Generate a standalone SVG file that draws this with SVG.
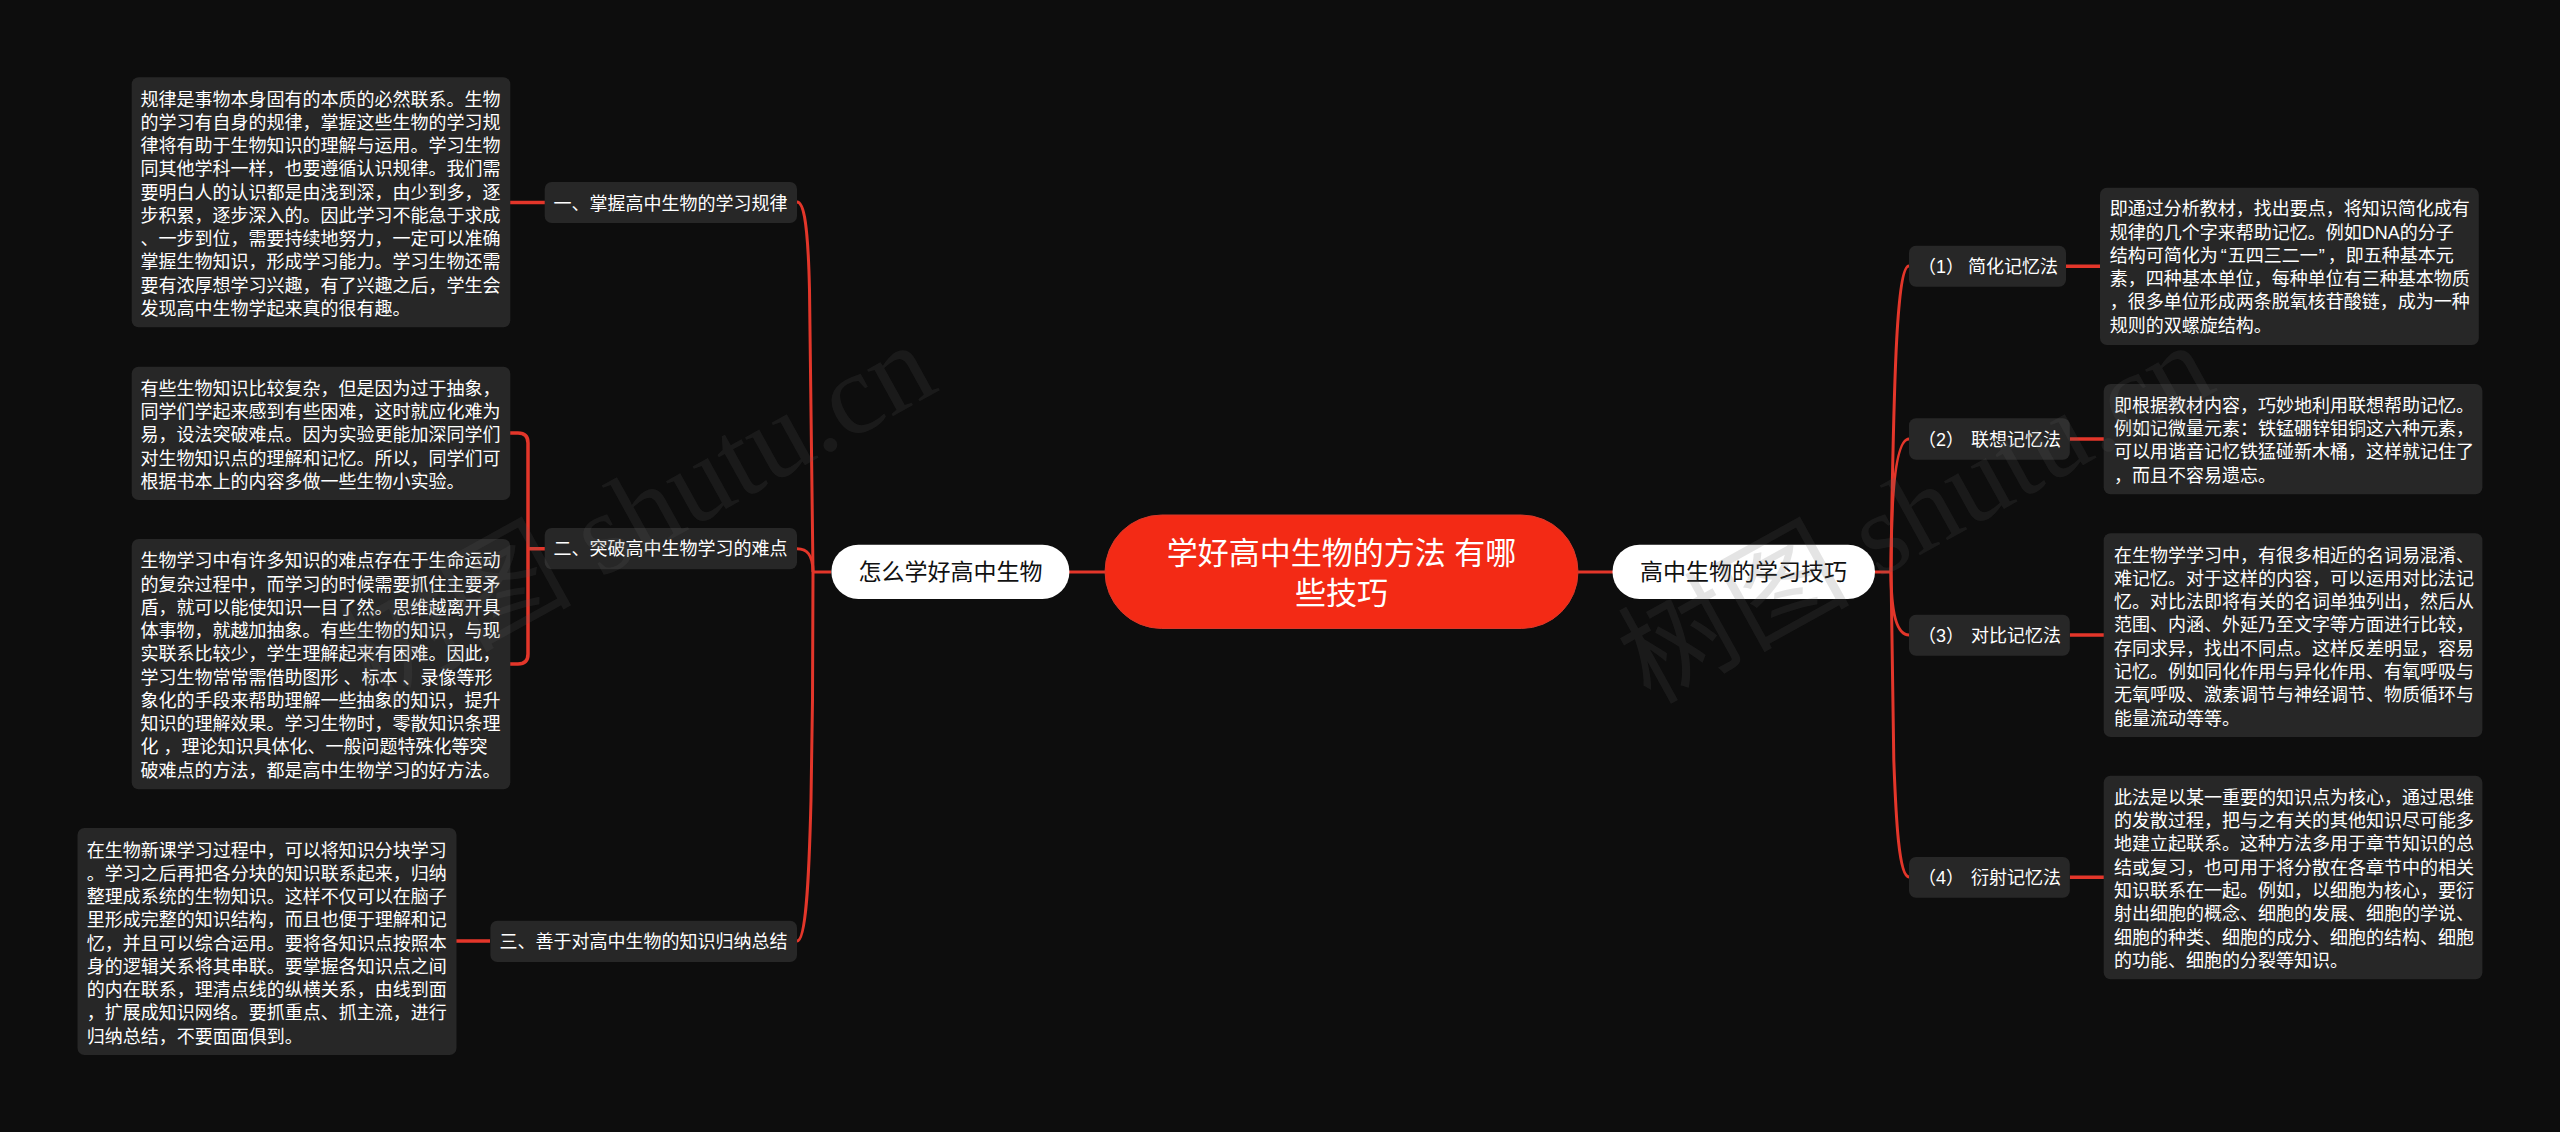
<svg xmlns="http://www.w3.org/2000/svg" width="2560" height="1132" viewBox="0 0 2560 1132">
<style>
text{font-family:"Liberation Sans","Noto Sans CJK SC",sans-serif;fill:#fff}
.box{fill:#272727}
.t{font-size:18px}
.sec{font-size:23px;fill:#111}
.root{font-size:31px;text-anchor:middle}
.pill{fill:#fff}
.c path{fill:none;stroke:#e3362a;stroke-width:3}
.c .s{stroke-width:3.5}
.wm{font-family:"Liberation Serif","Noto Sans CJK SC",serif;font-size:116px;fill:#606060;fill-opacity:.17}
</style>
<rect width="2560" height="1132" fill="#0d0d0d"/>
<g id="connectors" class="c">
<path d="M1105 572H1069"/>
<path d="M831 572H813"/>
<path d="M1578 572H1613"/>
<path d="M1875 572H1891"/>
<path d="M797 202C804 202 808 225 809.5 290C810.5 340 812 450 813 572"/>
<path d="M797 548.7C806 548.7 813 553 813 572"/>
<path d="M813 572L812.5 700L811 800C809 880 806 941 797 941"/>
<path class="s" d="M510 202.5H545"/>
<path class="s" d="M510 433H518Q528 433 528 443V654Q528 664 518 664H510M528 548.7H545"/>
<path class="s" d="M456 941H490"/>
<path d="M1891 572L1892 500C1894 400 1896 266 1909 266"/>
<path d="M1891 572C1891 500 1895 439 1909 439"/>
<path d="M1891 572C1891 615 1897 635 1909 635"/>
<path d="M1891 572L1893.8 760C1896 820 1899 877 1909 877"/>
<path class="s" d="M2066 266.3H2100"/>
<path class="s" d="M2069.8 439H2104"/>
<path class="s" d="M2069.8 635H2104"/>
<path class="s" d="M2069.8 877.3H2104"/>
</g>
<g id="root">
<rect x="1105" y="515" width="473" height="113.5" rx="56.7" fill="#f32a15" stroke="#d8382a" stroke-width="1"/>
<text class="root"><tspan x="1341.5" y="564">学好高中生物的方法 有哪</tspan><tspan x="1341.5" y="604">些技巧</tspan></text>
</g>
<g id="left-main">
<rect class="pill" x="831.4" y="544.7" width="238" height="54.3" rx="27"/>
<text class="sec" x="858.5" y="580">怎么学好高中生物</text>
</g>
<g id="right-main">
<rect class="pill" x="1612.5" y="544.7" width="262.5" height="54.3" rx="27"/>
<text class="sec" x="1640" y="580">高中生物的学习技巧</text>
</g>
<g id="node-a">
<rect class="box" x="544.7" y="182" width="252.3" height="41" rx="7"/>
<text class="t" x="553.5" y="209.5">一、掌握高中生物的学习规律</text>
</g>
<g id="node-b">
<rect class="box" x="544.7" y="528" width="252.3" height="41.3" rx="7"/>
<text class="t" x="553.5" y="555">二、突破高中生物学习的难点</text>
</g>
<g id="node-c">
<rect class="box" x="490.4" y="920.7" width="306.6" height="41.3" rx="7"/>
<text class="t" x="499.6" y="947.7">三、善于对高中生物的知识归纳总结</text>
</g>
<g id="box-l1">
<rect class="box" x="131.7" y="77.3" width="378.6" height="250" rx="7"/>
<text class="t"><tspan x="140.5" y="105.5">规律是事物本身固有的本质的必然联系。生物</tspan><tspan x="140.5" y="128.8">的学习有自身的规律，掌握这些生物的学习规</tspan><tspan x="140.5" y="152">律将有助于生物知识的理解与运用。学习生物</tspan><tspan x="140.5" y="175.3">同其他学科一样，也要遵循认识规律。我们需</tspan><tspan x="140.5" y="198.5">要明白人的认识都是由浅到深，由少到多，逐</tspan><tspan x="140.5" y="221.8">步积累，逐步深入的。因此学习不能急于求成</tspan><tspan x="140.5" y="245">、一步到位，需要持续地努力，一定可以准确</tspan><tspan x="140.5" y="268.3">掌握生物知识，形成学习能力。学习生物还需</tspan><tspan x="140.5" y="291.5">要有浓厚想学习兴趣，有了兴趣之后，学生会</tspan><tspan x="140.5" y="314.8">发现高中生物学起来真的很有趣。</tspan></text>
</g>
<g id="box-l2">
<rect class="box" x="131.7" y="366.7" width="378.6" height="133.3" rx="7"/>
<text class="t"><tspan x="140.5" y="394.8">有些生物知识比较复杂，但是因为过于抽象，</tspan><tspan x="140.5" y="418">同学们学起来感到有些困难，这时就应化难为</tspan><tspan x="140.5" y="441.3">易，设法突破难点。因为实验更能加深同学们</tspan><tspan x="140.5" y="464.5">对生物知识点的理解和记忆。所以，同学们可</tspan><tspan x="140.5" y="487.8">根据书本上的内容多做一些生物小实验。</tspan></text>
</g>
<g id="box-l3">
<rect class="box" x="131.7" y="539" width="378.6" height="250.3" rx="7"/>
<text class="t"><tspan x="140.5" y="567.2">生物学习中有许多知识的难点存在于生命运动</tspan><tspan x="140.5" y="590.5">的复杂过程中，而学习的时候需要抓住主要矛</tspan><tspan x="140.5" y="613.7">盾，就可以能使知识一目了然。思维越离开具</tspan><tspan x="140.5" y="637">体事物，就越加抽象。有些生物的知识，与现</tspan><tspan x="140.5" y="660.2">实联系比较少，学生理解起来有困难。因此，</tspan><tspan x="140.5" y="683.5">学习生物常常需借助图形 、标本 、录像等形</tspan><tspan x="140.5" y="706.7">象化的手段来帮助理解一些抽象的知识，提升</tspan><tspan x="140.5" y="730">知识的理解效果。学习生物时，零散知识条理</tspan><tspan x="140.5" y="753.2">化 ，理论知识具体化、一般问题特殊化等突</tspan><tspan x="140.5" y="776.5">破难点的方法，都是高中生物学习的好方法。</tspan></text>
</g>
<g id="box-l4">
<rect class="box" x="77.5" y="828" width="379" height="227" rx="7"/>
<text class="t"><tspan x="86.7" y="856.5">在生物新课学习过程中，可以将知识分块学习</tspan><tspan x="86.7" y="879.8">。学习之后再把各分块的知识联系起来，归纳</tspan><tspan x="86.7" y="903">整理成系统的生物知识。这样不仅可以在脑子</tspan><tspan x="86.7" y="926.3">里形成完整的知识结构，而且也便于理解和记</tspan><tspan x="86.7" y="949.5">忆，并且可以综合运用。要将各知识点按照本</tspan><tspan x="86.7" y="972.8">身的逻辑关系将其串联。要掌握各知识点之间</tspan><tspan x="86.7" y="996">的内在联系，理清点线的纵横关系，由线到面</tspan><tspan x="86.7" y="1019.3">，扩展成知识网络。要抓重点、抓主流，进行</tspan><tspan x="86.7" y="1042.5">归纳总结，不要面面俱到。</tspan></text>
</g>
<g id="node-1">
<rect class="box" x="1909" y="245.7" width="157" height="41" rx="7"/>
<text class="t" x="1918" y="273">（1） <tspan x="1968">简化记忆法</tspan></text>
</g>
<g id="node-2">
<rect class="box" x="1909" y="418.3" width="160.8" height="41.4" rx="7"/>
<text class="t" x="1918" y="445.5">（2） <tspan x="1971">联想记忆法</tspan></text>
</g>
<g id="node-3">
<rect class="box" x="1909" y="614.7" width="160.8" height="41" rx="7"/>
<text class="t" x="1918" y="641.5">（3） <tspan x="1971">对比记忆法</tspan></text>
</g>
<g id="node-4">
<rect class="box" x="1909" y="857" width="160.8" height="40.7" rx="7"/>
<text class="t" x="1918" y="883.8">（4） <tspan x="1971">衍射记忆法</tspan></text>
</g>
<g id="box-r1">
<rect class="box" x="2100" y="187.7" width="378.8" height="157.3" rx="7"/>
<text class="t"><tspan x="2109.8" y="215.2">即通过分析教材，找出要点，将知识简化成有</tspan><tspan x="2109.8" y="238.5">规律的几个字来帮助记忆。例如DNA的分子</tspan><tspan x="2109.8" y="261.8">结构可简化为<tspan dx="3">“</tspan><tspan dx="1">五四三二一</tspan><tspan dx="1">”</tspan><tspan dx="3">，即五种基本元</tspan></tspan><tspan x="2109.8" y="285">素，四种基本单位，每种单位有三种基本物质</tspan><tspan x="2109.8" y="308.3">，很多单位形成两条脱氧核苷酸链，成为一种</tspan><tspan x="2109.8" y="331.5">规则的双螺旋结构。</tspan></text>
</g>
<g id="box-r2">
<rect class="box" x="2103.7" y="384" width="378.7" height="110.3" rx="7"/>
<text class="t"><tspan x="2113.9" y="411.5">即根据教材内容，巧妙地利用联想帮助记忆。</tspan><tspan x="2113.9" y="434.8">例如记微量元素：铁锰硼锌钼铜这六种元素，</tspan><tspan x="2113.9" y="458.2">可以用谐音记忆铁猛碰新木桶，这样就记住了</tspan><tspan x="2113.9" y="481.5">，而且不容易遗忘。</tspan></text>
</g>
<g id="box-r3">
<rect class="box" x="2103.7" y="533.3" width="378.7" height="203.7" rx="7"/>
<text class="t"><tspan x="2113.9" y="561.5">在生物学学习中，有很多相近的名词易混淆、</tspan><tspan x="2113.9" y="584.8">难记忆。对于这样的内容，可以运用对比法记</tspan><tspan x="2113.9" y="608.1">忆。对比法即将有关的名词单独列出，然后从</tspan><tspan x="2113.9" y="631.4">范围、内涵、外延乃至文字等方面进行比较，</tspan><tspan x="2113.9" y="654.7">存同求异，找出不同点。这样反差明显，容易</tspan><tspan x="2113.9" y="678">记忆。例如同化作用与异化作用、有氧呼吸与</tspan><tspan x="2113.9" y="701.3">无氧呼吸、激素调节与神经调节、物质循环与</tspan><tspan x="2113.9" y="724.6">能量流动等等。</tspan></text>
</g>
<g id="box-r4">
<rect class="box" x="2103.7" y="775.7" width="378.7" height="203.6" rx="7"/>
<text class="t"><tspan x="2113.9" y="803.8">此法是以某一重要的知识点为核心，通过思维</tspan><tspan x="2113.9" y="827.1">的发散过程，把与之有关的其他知识尽可能多</tspan><tspan x="2113.9" y="850.4">地建立起联系。这种方法多用于章节知识的总</tspan><tspan x="2113.9" y="873.7">结或复习，也可用于将分散在各章节中的相关</tspan><tspan x="2113.9" y="897">知识联系在一起。例如，以细胞为核心，要衍</tspan><tspan x="2113.9" y="920.3">射出细胞的概念、细胞的发展、细胞的学说、</tspan><tspan x="2113.9" y="943.6">细胞的种类、细胞的成分、细胞的结构、细胞</tspan><tspan x="2113.9" y="967">的功能、细胞的分裂等知识。</tspan></text>
</g>
<g id="watermark">
<text class="wm" transform="translate(1650 705) rotate(-29)">树图 shutu.cn</text>
<text class="wm" transform="translate(372 705) rotate(-29)">树图 shutu.cn</text>
</g>
</svg>
